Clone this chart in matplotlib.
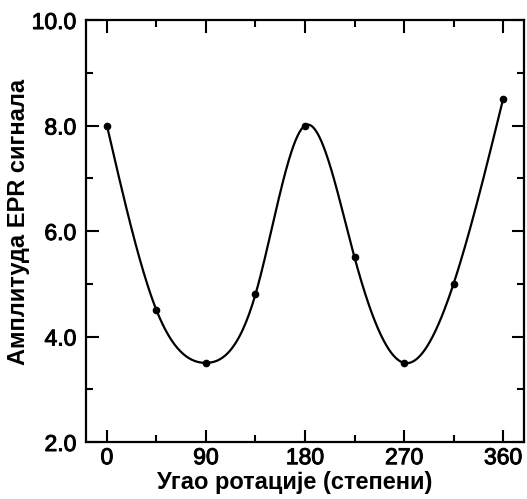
import numpy as np
import matplotlib
matplotlib.use("Agg")
import matplotlib.pyplot as plt
import matplotlib.patheffects as pe
from matplotlib.ticker import MultipleLocator

# углови ротације и измерене амплитуде
angle = [0, 45, 90, 135, 180, 225, 270, 315, 360]
amplitude = [8.0, 4.5, 3.5, 4.8, 8.0, 5.5, 3.5, 5.0, 8.5]
x_ticks = [0, 90, 180, 270, 360]
y_ticks = [2.0, 4.0, 6.0, 8.0, 10.0]


def natural_spline(x, y, xs):
    x = np.asarray(x, float)
    y = np.asarray(y, float)
    n = len(x)
    h = np.diff(x)
    A = np.zeros((n, n))
    b = np.zeros(n)
    A[0, 0] = A[-1, -1] = 1.0
    for i in range(1, n - 1):
        A[i, i - 1] = h[i - 1]
        A[i, i] = 2 * (h[i - 1] + h[i])
        A[i, i + 1] = h[i]
        b[i] = 6 * ((y[i + 1] - y[i]) / h[i] - (y[i] - y[i - 1]) / h[i - 1])
    m = np.linalg.solve(A, b)
    idx = np.clip(np.searchsorted(x, xs) - 1, 0, n - 2)
    x0, x1 = x[idx], x[idx + 1]
    hh = x1 - x0
    t0, t1 = x1 - xs, xs - x0
    return (m[idx] * t0**3 / (6 * hh) + m[idx + 1] * t1**3 / (6 * hh)
            + (y[idx] / hh - m[idx] * hh / 6) * t0
            + (y[idx + 1] / hh - m[idx + 1] * hh / 6) * t1)


plt.rcParams["font.family"] = ["Liberation Sans", "DejaVu Sans"]

fig = plt.figure(figsize=(5.27, 4.99), dpi=100)
ax = fig.add_axes([86 / 527, 57 / 499, 438 / 527, 422 / 499])

xs = np.linspace(angle[0], angle[-1], 400)
ax.plot(xs, natural_spline(angle, amplitude, xs), color="black", linewidth=1.6)
ax.plot(angle, amplitude, "o", color="black", markersize=4.5)

ax.set_xlim(-19, 379)
ax.set_ylim(2.0, 10.0)
ax.set_xticks(x_ticks)
ax.set_yticks(y_ticks)
ax.set_yticklabels([f"{v:.1f}" for v in y_ticks])
ax.xaxis.set_minor_locator(MultipleLocator(45))
ax.yaxis.set_minor_locator(MultipleLocator(1.0))

ax.tick_params(which="both", direction="in", top=True, right=True,
               width=1.5, labelsize=16.5)
ax.tick_params(axis="y", pad=7)
ax.tick_params(axis="x", pad=3)
ax.tick_params(which="major", length=9)
ax.tick_params(which="minor", length=5)
heavy = [pe.withStroke(linewidth=0.7, foreground="black")]
for lbl in ax.get_xticklabels() + ax.get_yticklabels():
    lbl.set_path_effects(heavy)
for sp in ax.spines.values():
    sp.set_linewidth(1.6)

fig.text(295 / 527, 1 - 482 / 499, "Угао ротације (степени)",
         fontsize=17, fontweight="bold", ha="center", va="center")
fig.text(19 / 527, 1 - 222 / 499, "Амплитуда EPR сигнала", rotation=90,
         fontsize=17, fontweight="bold", ha="center", va="center")

fig.savefig("out.png", dpi=100)
